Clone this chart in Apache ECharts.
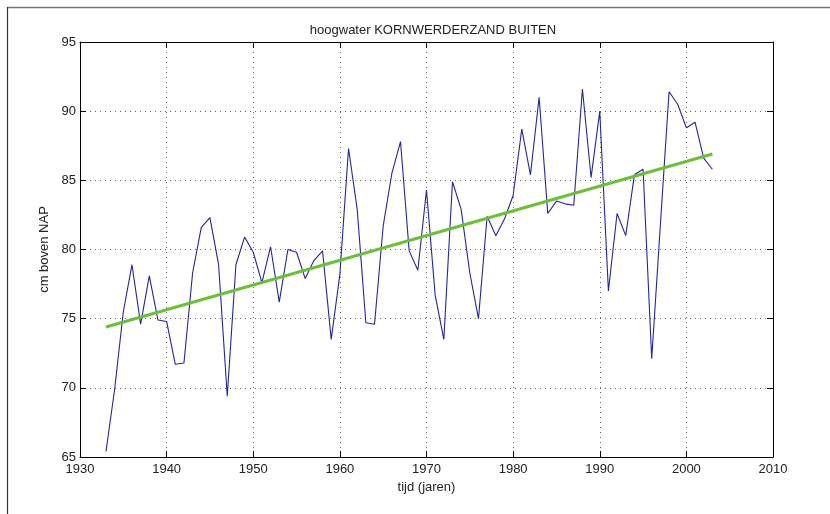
<!DOCTYPE html>
<html>
<head>
<meta charset="utf-8">
<script src="https://cdn.jsdelivr.net/npm/echarts@6/dist/echarts.min.js"></script>
<style>
html,body{margin:0;padding:0;background:#fff;}
#chart{width:830px;height:514px;}
</style>
</head>
<body>
<div id="chart"></div>
<script>
var titleText = 'hoogwater KORNWERDERZAND BUITEN';
var xAxisName = 'tijd (jaren)';
var yAxisName = 'cm boven NAP';
var years = [1933,1934,1935,1936,1937,1938,1939,1940,1941,1942,1943,1944,1945,1946,1947,1948,1949,1950,
  1951,1952,1953,1954,1955,1956,1957,1958,1959,1960,1961,1962,1963,1964,1965,1966,1967,1968,1969,1970,
  1971,1972,1973,1974,1975,1976,1977,1978,1979,1980,1981,1982,1983,1984,1985,1986,1987,1988,1989,1990,
  1991,1992,1993,1994,1995,1996,1997,1998,1999,2000,2001,2002,2003];
var highWater = [65.4,69.9,75.5,78.9,74.6,78.1,74.9,74.8,71.7,71.8,78.3,81.6,82.3,78.9,69.4,78.9,80.9,79.8,
  77.6,80.2,76.2,80.0,79.8,77.9,79.2,79.9,73.5,78.2,87.3,82.9,74.7,74.6,81.7,85.5,87.8,79.9,78.5,84.3,
  76.7,73.5,84.9,82.9,78.3,75.0,82.4,81.0,82.2,83.9,88.7,85.4,91.0,82.6,83.5,83.3,83.2,91.6,85.2,90.0,
  77.0,82.6,81.0,85.4,85.8,72.1,81.8,91.4,90.5,88.8,89.2,86.6,85.8];
var trendYears = [1933, 2003];
var trendValues = [74.4, 86.9];
var xTicks = {min: 1930, max: 2010, interval: 10};
var yTicks = {min: 65, max: 95, interval: 5};

var lineData = years.map(function (y, i) { return [y, highWater[i]]; });
var trendData = trendYears.map(function (y, i) { return [y, trendValues[i]]; });

var font = 'Liberation Sans, Arial, sans-serif';
var txt = '#222';
var gridLine = {show: true, lineStyle: {color: '#666', width: 1, type: [1, 4]}};

var chart = echarts.init(document.getElementById('chart'), null, {renderer: 'canvas'});
chart.setOption({
  animation: false,
  backgroundColor: '#fff',
  title: {
    text: titleText, left: 428, top: 19, textAlign: 'center',
    textStyle: {fontFamily: font, fontSize: 13, fontWeight: 'normal', color: txt}
  },
  graphic: [
    {type: 'line', shape: {x1: 7, y1: 7.5, x2: 830, y2: 7.5}, style: {stroke: '#777', lineWidth: 1.5}},
    {type: 'line', shape: {x1: 7.5, y1: 7, x2: 7.5, y2: 514}, style: {stroke: '#333', lineWidth: 1.2}}
  ],
  grid: {left: 80, top: 42, width: 693, height: 415, containLabel: false},
  xAxis: [{
    type: 'value', position: 'bottom', min: xTicks.min, max: xTicks.max, interval: xTicks.interval,
    name: xAxisName, nameLocation: 'middle', nameGap: 20,
    nameTextStyle: {fontFamily: font, fontSize: 13, color: txt},
    axisLine: {show: true, onZero: false, lineStyle: {color: '#000', width: 1}},
    axisTick: {show: true, inside: true, length: 6, lineStyle: {color: '#000'}},
    axisLabel: {fontFamily: font, fontSize: 13, color: txt, margin: 6, formatter: function (v) { return String(v); }},
    splitLine: gridLine
  }, {
    type: 'value', position: 'top', min: xTicks.min, max: xTicks.max, interval: xTicks.interval,
    axisLine: {show: true, onZero: false, lineStyle: {color: '#000', width: 1}},
    axisTick: {show: true, inside: true, length: 6, lineStyle: {color: '#000'}},
    axisLabel: {show: false}, splitLine: {show: false}
  }],
  yAxis: [{
    type: 'value', position: 'left', min: yTicks.min, max: yTicks.max, interval: yTicks.interval,
    name: yAxisName, nameLocation: 'middle', nameGap: 27, nameRotate: 90,
    nameTextStyle: {fontFamily: font, fontSize: 13, color: txt},
    axisLine: {show: true, onZero: false, lineStyle: {color: '#000', width: 1}},
    axisTick: {show: true, inside: true, length: 6, lineStyle: {color: '#000'}},
    axisLabel: {fontFamily: font, fontSize: 13, color: txt, margin: 4},
    splitLine: gridLine
  }, {
    type: 'value', position: 'right', min: yTicks.min, max: yTicks.max, interval: yTicks.interval,
    axisLine: {show: true, onZero: false, lineStyle: {color: '#000', width: 1}},
    axisTick: {show: true, inside: true, length: 6, lineStyle: {color: '#000'}},
    axisLabel: {show: false}, splitLine: {show: false}
  }],
  series: [{
    type: 'line', data: lineData, showSymbol: false, symbol: 'none',
    lineStyle: {color: '#25259a', width: 1.1}, z: 3
  }, {
    type: 'line', data: trendData, showSymbol: false, symbol: 'none',
    lineStyle: {color: '#6cbf3c', width: 3}, z: 4
  }]
});
</script>
</body>
</html>
